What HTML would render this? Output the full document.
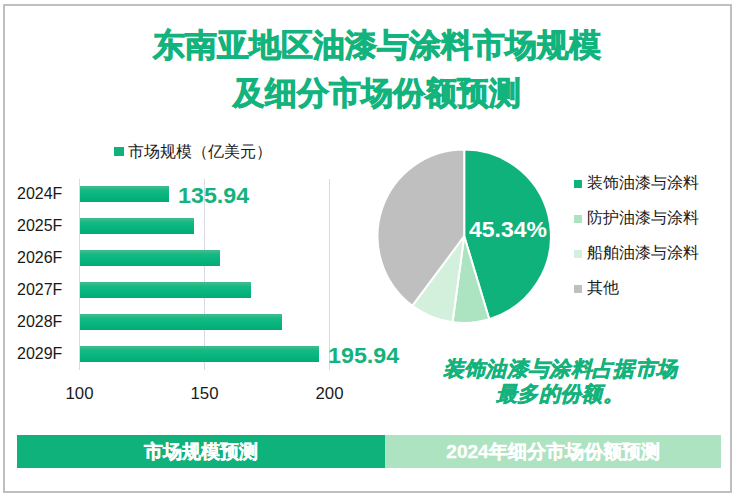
<!DOCTYPE html>
<html><head><meta charset="utf-8">
<style>
html,body{margin:0;padding:0;background:#fff;}
body{width:736px;height:497px;position:relative;overflow:hidden;font-family:"Liberation Sans",sans-serif;}
.frame{position:absolute;left:3px;top:4px;width:725px;height:485px;border:2px solid #bfbfbf;}
.t{position:absolute;white-space:nowrap;line-height:1;}
.title{left:0;width:753px;text-align:center;font-size:32px;font-weight:bold;color:#13b37d;-webkit-text-stroke:0.9px #13b37d;}
.ylab{left:17px;font-size:16px;color:#1a1a1a;}
.xlab{font-size:16.8px;color:#1a1a1a;width:60px;text-align:center;}
.grid{position:absolute;top:179px;height:191px;width:1px;background:#dad8e4;}
.bar{position:absolute;left:80px;height:16px;background:linear-gradient(#40bf8c 0%,#14b883 30%,#08b57e 60%,#04aa74 100%);}
.val{font-size:23.3px;font-weight:bold;color:#14b27c;transform:scaleY(0.95);transform-origin:0 18px;}
.leg{font-size:16px;color:#1a1a1a;}
.sq{position:absolute;width:8px;height:8px;}
.note{font-size:21px;letter-spacing:0.3px;font-weight:bold;font-style:italic;color:#14b27c;-webkit-text-stroke:0.5px #14b27c;text-align:center;width:300px;left:410px;line-height:24.5px;}
.bb{position:absolute;top:435px;height:33px;color:#fff;font-weight:bold;font-size:19px;-webkit-text-stroke:0.4px #fff;text-align:center;line-height:33px;}
</style></head><body>
<div class="frame"></div>

<div class="t title" style="top:29.2px;">东南亚地区油漆与涂料市场规模</div>
<div class="t title" style="top:76.7px;">及细分市场份额预测</div>

<!-- bar legend -->
<div class="sq" style="left:114px;top:146.5px;width:10px;height:9px;background:#12b07b;"></div>
<div class="t leg" style="left:128px;top:143.6px;">市场规模（亿美元）</div>

<!-- grid -->
<div class="grid" style="left:79px;"></div>
<div class="grid" style="left:204px;"></div>
<div class="grid" style="left:329px;"></div>

<div class="bar" style="top:186px;width:89px;"></div>
<div class="bar" style="top:218px;width:114px;"></div>
<div class="bar" style="top:250px;width:140px;"></div>
<div class="bar" style="top:282px;width:171px;"></div>
<div class="bar" style="top:314px;width:202px;"></div>
<div class="bar" style="top:346px;width:239px;"></div>

<div class="t ylab" style="top:186px;">2024F</div>
<div class="t ylab" style="top:218px;">2025F</div>
<div class="t ylab" style="top:250px;">2026F</div>
<div class="t ylab" style="top:282px;">2027F</div>
<div class="t ylab" style="top:314px;">2028F</div>
<div class="t ylab" style="top:346px;">2029F</div>

<div class="t xlab" style="left:49.5px;top:385.5px;">100</div>
<div class="t xlab" style="left:174.5px;top:385.5px;">150</div>
<div class="t xlab" style="left:299.5px;top:385.5px;">200</div>

<div class="t val" style="left:178px;top:183.9px;">135.94</div>
<div class="t val" style="left:328px;top:343.9px;">195.94</div>

<!-- pie -->
<svg style="position:absolute;left:0;top:0;" width="736" height="497">
<g stroke="#fff" stroke-width="2" stroke-linejoin="round">
<path d="M464.2,236.2 L464.20,149.50 A86.7,86.7 0 0 1 489.26,319.20 Z" fill="#10b27c"/>
<path d="M464.2,236.2 L489.26,319.20 A86.7,86.7 0 0 1 452.58,322.12 Z" fill="#ace3c0"/>
<path d="M464.2,236.2 L452.58,322.12 A86.7,86.7 0 0 1 412.39,305.71 Z" fill="#d2f0dc"/>
<path d="M464.2,236.2 L412.39,305.71 A86.7,86.7 0 0 1 464.20,149.50 Z" fill="#bfbfbf"/>
</g>
</svg>
<div class="t" style="left:469px;top:218px;font-size:23px;font-weight:bold;color:#fff;transform:scaleY(0.93);transform-origin:0 18px;">45.34%</div>

<div class="sq" style="left:574px;top:179.5px;background:#10b27c;"></div>
<div class="sq" style="left:574px;top:214.5px;background:#ace3c0;"></div>
<div class="sq" style="left:574px;top:250px;background:#d2f0dc;"></div>
<div class="sq" style="left:574px;top:285px;background:#bfbfbf;"></div>
<div class="t leg" style="left:586.5px;top:174.6px;">装饰油漆与涂料</div>
<div class="t leg" style="left:586.5px;top:209.8px;">防护油漆与涂料</div>
<div class="t leg" style="left:586.5px;top:245.2px;">船舶油漆与涂料</div>
<div class="t leg" style="left:586.5px;top:280.4px;">其他</div>

<div class="t note" style="top:357px;">装饰油漆与涂料占据市场<br>最多的份额。</div>

<div class="bb" style="left:17px;width:368px;background:#10b27c;">市场规模预测</div>
<div class="bb" style="left:385px;width:336px;background:#ade3c0;">2024年细分市场份额预测</div>
</body></html>
